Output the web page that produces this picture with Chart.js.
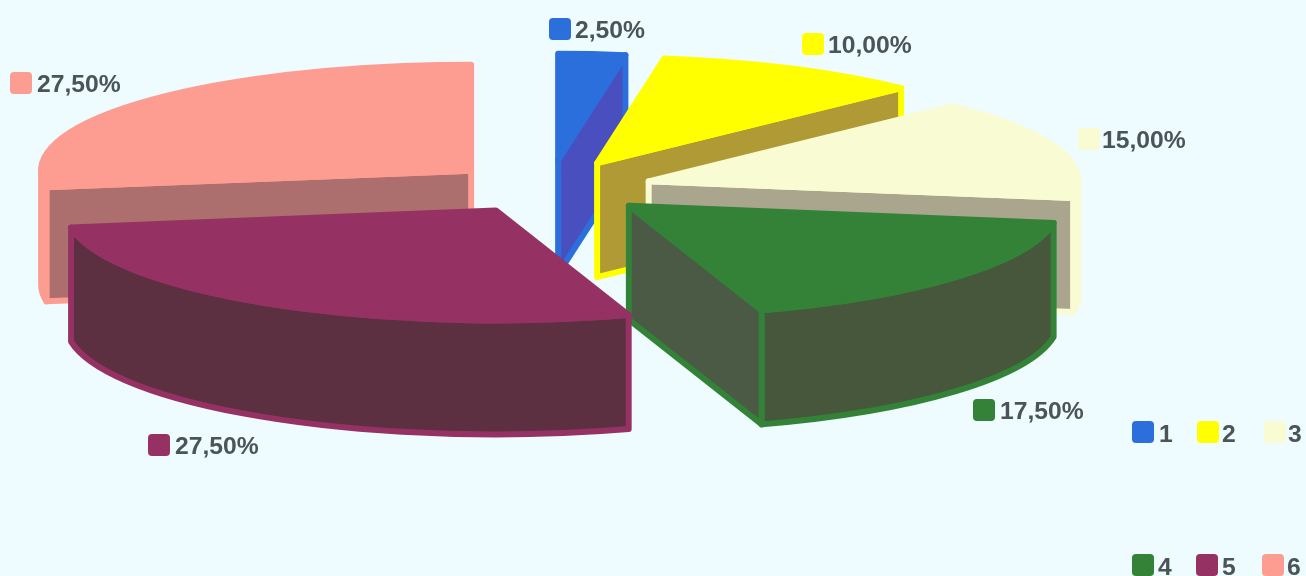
<!DOCTYPE html>
<html>
<head>
<meta charset="utf-8">
<title>Pie</title>
<script src="https://cdn.jsdelivr.net/npm/chart.js@4/dist/chart.umd.min.js"></script>
<style>
    html, body { margin: 0; padding: 0; background: #eefbff; overflow: hidden; }
    #pieChart { display: block; }
</style>
</head>
<body>
<canvas id="pieChart" width="1306" height="576"></canvas>
<script>
// Data
const categories = ['1', '2', '3', '4', '5', '6'];
const shares = [2.5, 10, 15, 17.5, 27.5, 27.5];

// Colours
const faceColors = ['#2b6fdc', '#ffff00', '#f9fcd2', '#338238', '#953263', '#fd9d92'];
const cutColors = ['#4a4fc0', '#b09a35', '#aaa68e', '#4a5a45', '#5c2f41', '#ac6f6e'];
const rimColors = ['#4a4fc0', '#b09a35', '#aaa68e', '#46573c', '#5c2f41', '#ac6f6e'];

// Back to front, the way the slices overlap
const drawOrder = [0, 1, 2, 3, 5, 4];

// Where the tilted pie sits on the page
const view = { x: 550, y: 191, radiusX: 430, radiusBack: 106, radiusFront: 110, tilt: 0.274, depth: 114, liftBack: 1.1, liftFront: 0.8 };
const explode = 62;

// Label and legend placement [swatch x, swatch y, text x]
const labelSpots = [[549, 18, 575], [802, 33, 828], [1078, 128, 1102], [973, 399, 1000], [148, 434, 175], [10, 72, 37]];
const legendSpots = [[1132, 421, 1159], [1197, 421, 1222], [1264, 421, 1288], [1132, 554, 1158], [1196, 554, 1222], [1262, 554, 1287]];

const textColor = '#4a5459';
const font = 'bold 24.7px "Liberation Sans", Arial, sans-serif';

function formatShare(value) {
    return value.toFixed(2).replace('.', ',') + '%';
}

function swatch(ctx, x, y, color) {
    ctx.fillStyle = color;
    ctx.beginPath();
    ctx.roundRect(x, y, 22, 22, 4);
    ctx.fill();
}

function fillFace(ctx, points, fill, stroke) {
    ctx.beginPath();
    points.forEach((p, i) => (i ? ctx.lineTo(p.x, p.y) : ctx.moveTo(p.x, p.y)));
    ctx.closePath();
    ctx.fillStyle = fill;
    ctx.fill();
    ctx.strokeStyle = stroke;
    ctx.stroke();
}

// Draws the arcs chart.js laid out as tilted, extruded slices
const tiltedPie = {
    id: 'tiltedPie',
    beforeDatasetsDraw(chart) {
        const ctx = chart.ctx;
        const arcs = chart.getDatasetMeta(0).data;

        ctx.save();
        ctx.lineWidth = 6;
        ctx.lineJoin = 'round';

        drawOrder.forEach(i => {
            const arc = arcs[i];
            const { startAngle, endAngle, outerRadius } = arc;
            const mid = (startAngle + endAngle) / 2;
            const scale = view.radiusX / outerRadius;
            const offset = arc.options.offset * scale;
            const front = Math.sin(mid) > 0;
            const lift = front ? view.liftFront : view.liftBack;
            const radiusY = front ? view.radiusFront : view.radiusBack;
            const cx = view.x + Math.cos(mid) * offset;
            const cy = view.y + Math.sin(mid) * offset * view.tilt * lift;
            const rim = a => ({ x: cx + Math.cos(a) * view.radiusX, y: cy + Math.sin(a) * radiusY });
            const drop = p => ({ x: p.x, y: p.y + view.depth });
            const apex = { x: cx, y: cy };

            // cut faces turned towards the viewer
            [[startAngle, -Math.PI / 2], [endAngle, Math.PI / 2]].forEach(([a, turn]) => {
                if (Math.sin(a + turn) > 0.001) {
                    const p = rim(a);
                    fillFace(ctx, [apex, p, drop(p), drop(apex)], cutColors[i], faceColors[i]);
                }
            });

            // outer wall, only the front half of the ellipse shows
            const from = Math.max(startAngle, 0);
            const to = Math.min(endAngle, Math.PI);
            if (from < to) {
                ctx.beginPath();
                ctx.ellipse(cx, cy, view.radiusX, radiusY, 0, from, to);
                ctx.ellipse(cx, cy + view.depth, view.radiusX, radiusY, 0, to, from, true);
                ctx.closePath();
                ctx.fillStyle = rimColors[i];
                ctx.fill();
                ctx.strokeStyle = faceColors[i];
                ctx.stroke();
            }

            // top face
            ctx.beginPath();
            ctx.moveTo(cx, cy);
            ctx.ellipse(cx, cy, view.radiusX, radiusY, 0, startAngle, endAngle);
            ctx.closePath();
            ctx.fillStyle = faceColors[i];
            ctx.fill();
            ctx.strokeStyle = faceColors[i];
            ctx.stroke();
        });

        ctx.restore();
        return false;
    },
    afterDraw(chart) {
        const ctx = chart.ctx;
        ctx.save();
        ctx.font = font;
        ctx.textBaseline = 'alphabetic';

        shares.forEach((value, i) => {
            const [sx, sy, tx] = labelSpots[i];
            swatch(ctx, sx, sy, faceColors[i]);
            ctx.fillStyle = textColor;
            ctx.fillText(formatShare(value), tx, sy + 19.5);
        });

        categories.forEach((name, i) => {
            const [sx, sy, tx] = legendSpots[i];
            swatch(ctx, sx, sy, faceColors[i]);
            ctx.fillStyle = textColor;
            ctx.fillText(name, tx, sy + 20.5);
        });

        ctx.restore();
    }
};

new Chart(document.getElementById('pieChart'), {
    type: 'pie',
    data: {
        labels: categories,
        datasets: [{
            data: shares,
            backgroundColor: faceColors,
            borderWidth: 0,
            offset: explode
        }]
    },
    options: {
        responsive: false,
        animation: false,
        plugins: {
            legend: { display: false },
            tooltip: { enabled: false }
        }
    },
    plugins: [tiltedPie]
});
</script>
</body>
</html>
